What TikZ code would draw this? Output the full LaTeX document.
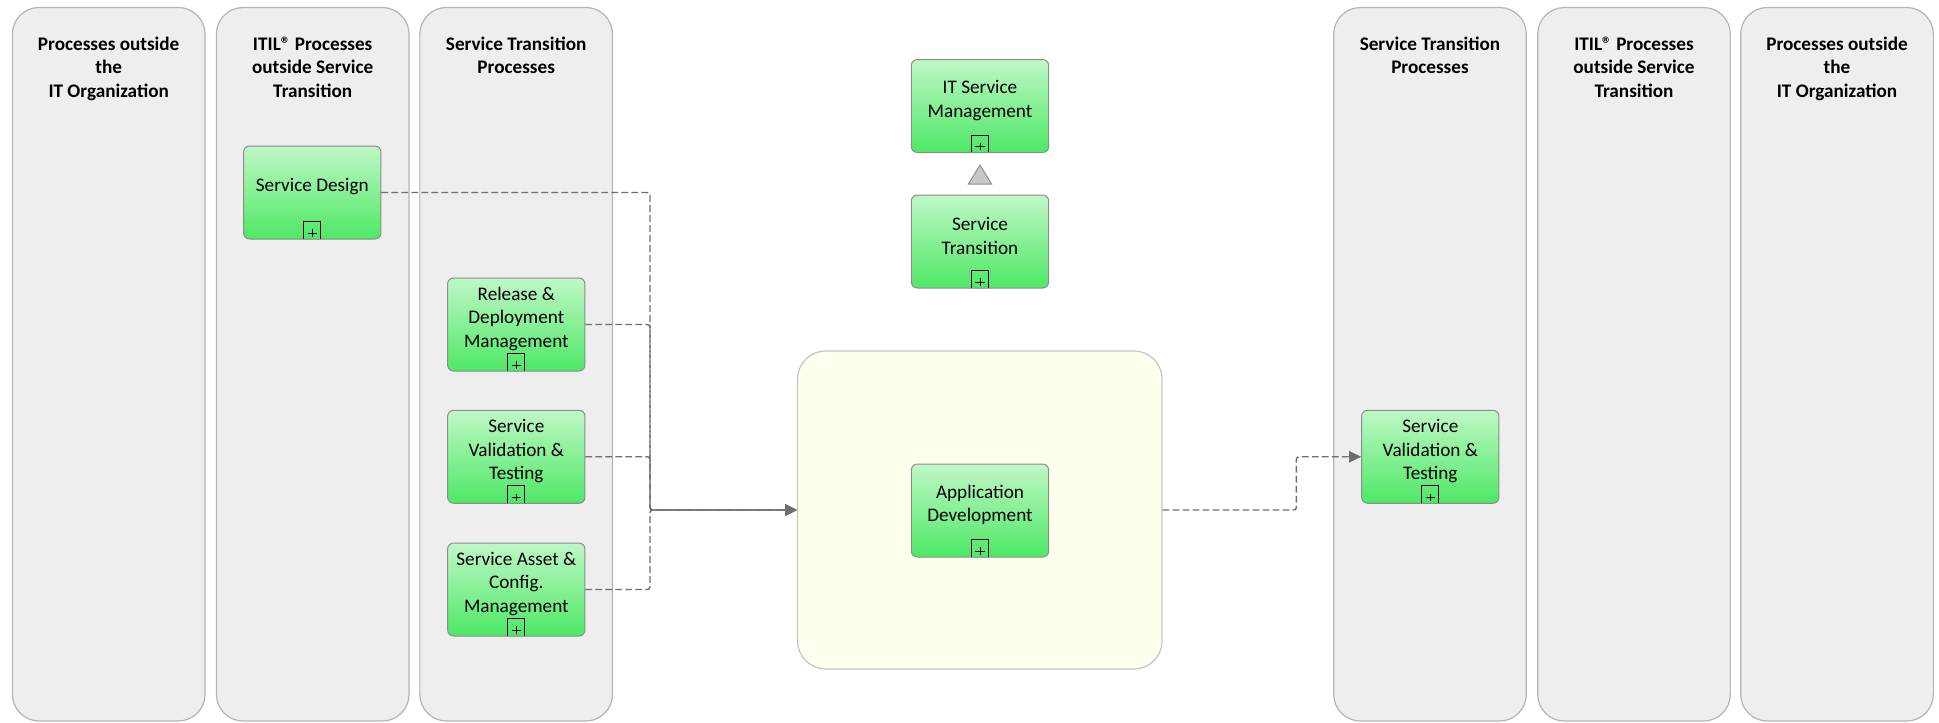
\documentclass[tikz,border=0pt]{standalone}
\usepackage{fontspec}
\setmainfont{Carlito}
\usetikzlibrary{arrows.meta,calc}
\definecolor{lanefill}{HTML}{EEEEEE}
\definecolor{laneline}{HTML}{B4B4B4}
\definecolor{gtop}{HTML}{BFF8C6}
\definecolor{gbot}{HTML}{4DE865}
\definecolor{gline}{HTML}{8C8C8C}
\definecolor{ivoryfill}{HTML}{FFFFEE}
\definecolor{ivoryline}{HTML}{C4C4C4}
\definecolor{connc}{HTML}{6E6E6E}
\definecolor{trifill}{HTML}{C8C8C8}
\begin{document}
\begin{tikzpicture}[x=0.75pt,y=-0.75pt,
  lane/.style={draw=laneline, fill=lanefill, line width=0.9pt, rounded corners=20pt,
    minimum width=144.5pt, minimum height=535.1pt, inner sep=0pt},
  lanetitle/.style={font=\fontsize{14.4}{17.6}\selectfont\bfseries, align=center, anchor=north, inner sep=0pt},
  ptext/.style={font=\fontsize{14.4}{17.6}\selectfont, align=center, yshift=4.2pt, inner sep=0pt},
  proc/.style={draw=gline, line width=0.75pt, rounded corners=4.5pt, top color=gtop, bottom color=gbot,
    minimum width=103pt, minimum height=69.75pt, inner sep=0pt,
    path picture={
      \coordinate (pb) at (path picture bounding box.south);
      \draw[black, line width=0.75pt, sharp corners] ([xshift=-6.5pt]pb) rectangle ([xshift=6.5pt,yshift=13pt]pb);
      \draw[black, line width=0.65pt, sharp corners] ([xshift=-3.6pt,yshift=4.5pt]pb) -- ([xshift=3.6pt,yshift=4.5pt]pb)
        ([yshift=1.7pt]pb) -- ([yshift=7.3pt]pb);
    }},
  container/.style={draw=ivoryline, fill=ivoryfill, line width=0.9pt, rounded corners=21pt,
    minimum width=273.3pt, minimum height=238.5pt, inner sep=0pt},
  conn/.style={draw=connc, line width=1.1pt, dash pattern=on 5pt off 2.5pt, rounded corners=2pt,
    -{Triangle[length=9pt,width=8.5pt,fill=connc]}},
  genmark/.style={draw=gline, fill=trifill, line width=0.75pt}
]
\useasboundingbox (0,0) rectangle (1939,722);

% lanes
\node[lane] (l1) at (108.7,364.25) {};
\node[lane] (l2) at (312.7,364.25) {};
\node[lane] (l3) at (516.2,364.25) {};
\node[lane] (r3) at (1430,364.25) {};
\node[lane] (r2) at (1634,364.25) {};
\node[lane] (r1) at (1837,364.25) {};

\node[lanetitle] (t1) at (108.7,36.7) {Processes outside\\the\\IT Organization};
\node[lanetitle] (t2) at (312.7,36.7) {ITIL® Processes\\outside Service\\Transition};
\node[lanetitle] (t3) at (516.2,36.7) {Service Transition\\Processes};
\node[lanetitle] (t4) at (1430,36.7) {Service Transition\\Processes};
\node[lanetitle] (t5) at (1634,36.7) {ITIL® Processes\\outside Service\\Transition};
\node[lanetitle] (t6) at (1837,36.7) {Processes outside\\the\\IT Organization};

% container
\node[container] (yel) at (979.8,510) {};

% processes
\node[proc, label={[ptext]center:Service Design}] (sd) at (312.3,192.5) {};
\node[proc, label={[ptext]center:Release \&\\Deployment\\Management}] (rdm) at (516.3,324.5) {};
\node[proc, label={[ptext]center:Service\\Validation \&\\Testing}] (svt) at (516.3,456.75) {};
\node[proc, label={[ptext]center:Service Asset \&\\Config.\\Management}] (sacm) at (516.3,589.5) {};
\node[proc, label={[ptext]center:IT Service\\Management}] (itsm) at (980,106) {};
\node[proc, label={[ptext]center:Service\\Transition}] (st) at (980,241.5) {};
\node[proc, label={[ptext]center:Application\\Development}] (app) at (980,510.5) {};
\node[proc, label={[ptext]center:Service\\Validation \&\\Testing}] (svtr) at (1430.3,456.75) {};

% generalization marker
\path (itsm.south) ++(0,12) coordinate (tapex);
\draw[genmark] (tapex) -- ++(11.5,19) -- ++(-23,0) -- cycle;

% connectors
\path (yel.west) ++(-147,0) coordinate (j);
\path (yel.east) ++(133.8,0) coordinate (k);
\draw[conn] (sd.east) -| (j) -- (yel.west);
\draw[conn] (rdm.east) -| (j) -- (yel.west);
\draw[conn] (svt.east) -| (j) -- (yel.west);
\draw[conn] (sacm.east) -| (j) -- (yel.west);
\draw[conn] (yel.east) -- (k) |- (svtr.west);
\end{tikzpicture}
\end{document}
